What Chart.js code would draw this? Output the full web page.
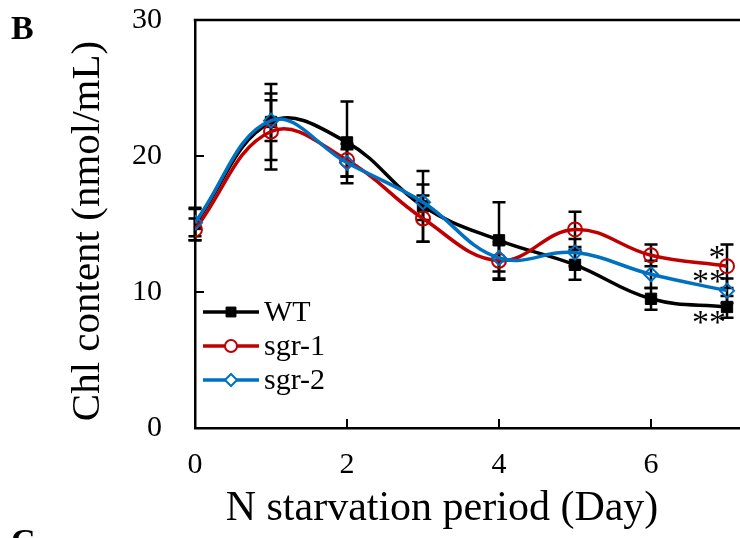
<!DOCTYPE html>
<html>
<head>
<meta charset="utf-8">
<script src="https://cdn.jsdelivr.net/npm/chart.js@4/dist/chart.umd.min.js"></script>
<style>
html,body{margin:0;padding:0;background:#fff;}
#wrap{width:740px;height:538px;position:relative;}
</style>
</head>
<body>
<div id="wrap"><canvas id="c"></canvas></div>
<script>
const days = [0, 1, 2, 3, 4, 5, 6, 7];
const wtValues   = [15.0, 22.5, 21.0, 16.3, 13.8, 12.0, 9.5, 8.9];
const wtErrors   = [1.2, 2.8, 3.0, 2.6, 2.8, 1.1, 0.8, 0.8];
const sgr1Values = [14.6, 21.8, 19.7, 15.4, 12.3, 14.6, 12.7, 11.9];
const sgr1Errors = [0.8, 2.8, 1.2, 1.7, 1.4, 1.3, 0.8, 1.6];
const sgr2Values = [15.1, 22.6, 19.5, 16.6, 12.5, 12.9, 11.3, 10.1];
const sgr2Errors = [1.0, 1.5, 1.0, 1.3, 1.0, 1.0, 1.0, 0.9];
const seriesNames = ['WT', 'sgr-1', 'sgr-2'];
const xTickValues = [0, 2, 4, 6];
const yTickValues = [0, 10, 20, 30];
const significance = ['**', '*', '**'];

const serif = "'Liberation Serif','DejaVu Serif',serif";

function pts(vals){ return days.map((d,i)=>({x:d, y:vals[i]})); }

const errorPlugin = {
  id: 'errbars',
  beforeDatasetsDraw(chart){
    const ctx = chart.ctx, xs = chart.scales.x, ys = chart.scales.y;
    const sets = [[wtValues, wtErrors],[sgr1Values, sgr1Errors],[sgr2Values, sgr2Errors]];
    ctx.save();
    ctx.strokeStyle = '#000';
    ctx.lineWidth = 2.5;
    sets.forEach(([v,e])=>{
      days.forEach((d,i)=>{
        const x = xs.getPixelForValue(d);
        const y1 = ys.getPixelForValue(v[i]+e[i]);
        const y2 = ys.getPixelForValue(v[i]-e[i]);
        ctx.beginPath();
        ctx.moveTo(x,y1); ctx.lineTo(x,y2);
        ctx.moveTo(x-6.5,y1); ctx.lineTo(x+6.5,y1);
        ctx.moveTo(x-6.5,y2); ctx.lineTo(x+6.5,y2);
        ctx.stroke();
      });
    });
    ctx.restore();
  }
};

const decoPlugin = {
  id: 'deco',
  afterDraw(chart){
    const ctx = chart.ctx, xs = chart.scales.x, ys = chart.scales.y;
    const a = chart.chartArea;
    ctx.save();
    // top border
    ctx.strokeStyle = '#000';
    ctx.lineWidth = 2.5;
    ctx.beginPath();
    ctx.moveTo(a.left - 1.25, a.top); ctx.lineTo(a.right, a.top);
    ctx.stroke();
    // inward ticks
    ctx.lineWidth = 2;
    yTickValues.forEach(v=>{
      if (v===0 || v===30) return;
      const y = ys.getPixelForValue(v);
      ctx.beginPath(); ctx.moveTo(a.left, y); ctx.lineTo(a.left+9, y); ctx.stroke();
    });
    xTickValues.forEach(v=>{
      if (v===0) return;
      const x = xs.getPixelForValue(v);
      ctx.beginPath(); ctx.moveTo(x, a.bottom); ctx.lineTo(x, a.bottom-9); ctx.stroke();
    });
    // axis titles
    ctx.fillStyle = '#000';
    ctx.textAlign = 'center';
    ctx.textBaseline = 'middle';
    ctx.font = "42px " + serif;
    ctx.fillText('N starvation period (Day)', 442, 509);
    ctx.save();
    ctx.translate(88, 231);
    ctx.rotate(-Math.PI/2);
    ctx.font = "41px " + serif;
    ctx.fillText('Chl content (nmol/mL)', 0, 0);
    ctx.restore();
    // panel letters
    ctx.font = "bold 34px " + serif;
    ctx.textAlign = 'left';
    ctx.textBaseline = 'alphabetic';
    ctx.fillText('B', 11, 39);
    ctx.fillText('C', 11, 552);
    // significance marks
    ctx.font = "34px " + serif;
    ctx.textAlign = 'center';
    ctx.textBaseline = 'alphabetic';
    const x7 = xs.getPixelForValue(7);
    ctx.fillText(significance[1], x7-10, ys.getPixelForValue(sgr1Values[7]) + 2);
    ctx.fillText(significance[2], x7-18, ys.getPixelForValue(sgr2Values[7]) + 1);
    ctx.fillText(significance[0], x7-18, ys.getPixelForValue(wtValues[7]) + 26);
    // legend
    const rows = [312, 346, 380];
    const ds = chart.data.datasets;
    ctx.font = "30px " + serif;
    ctx.textAlign = 'left';
    ctx.textBaseline = 'middle';
    ds.forEach((d,i)=>{
      const y = rows[i];
      ctx.strokeStyle = d.borderColor;
      ctx.lineWidth = 3.5;
      ctx.beginPath(); ctx.moveTo(203, y); ctx.lineTo(259, y); ctx.stroke();
      ctx.fillStyle = i === 0 ? '#000' : '#fff';
      ctx.strokeStyle = d.borderColor;
      ctx.lineWidth = d.pointBorderWidth;
      Chart.helpers.drawPoint(ctx, {
        pointStyle: d.pointStyle, radius: d.pointRadius - 1, borderWidth: d.pointBorderWidth
      }, 231, y);
      ctx.fillStyle = '#000';
      ctx.fillText(d.label, 264, y+1);
    });
    ctx.restore();
  }
};

new Chart(document.getElementById('c'), {
  type: 'line',
  data: {
    datasets: [
      { label: seriesNames[0], data: pts(wtValues), borderColor: '#000000', backgroundColor: '#000000',
        pointStyle: 'rect', pointRadius: 8, pointBorderWidth: 1, borderWidth: 3.5, tension: 0.4, order: 3,
        pointBackgroundColor: '#000000', pointBorderColor: '#000000' },
      { label: seriesNames[1], data: pts(sgr1Values), borderColor: '#C00000', backgroundColor: '#ffffff',
        pointStyle: 'circle', pointRadius: 7, pointBorderWidth: 2, borderWidth: 3.5, tension: 0.4, order: 2,
        pointBackgroundColor: 'rgba(255,255,255,0)', pointBorderColor: '#C00000' },
      { label: seriesNames[2], data: pts(sgr2Values), borderColor: '#0070C0', backgroundColor: '#ffffff',
        pointStyle: 'rectRot', pointRadius: 7, pointBorderWidth: 2, borderWidth: 3.5, tension: 0.4, order: 1,
        pointBackgroundColor: 'rgba(255,255,255,0)', pointBorderColor: '#0070C0' }
    ]
  },
  options: {
    responsive: true,
    maintainAspectRatio: false,
    animation: false,
    layout: { autoPadding: false, padding: { top: 20, left: 0, right: 0, bottom: 0 } },
    plugins: { legend: { display: false }, tooltip: { enabled: false } },
    scales: {
      x: {
        type: 'linear', min: 0, max: 545/76,
        afterFit(s){ s.height = 110; s.paddingLeft = 0; s.paddingRight = 0; },
        afterBuildTicks(s){ s.ticks = xTickValues.map(v=>({value:v})); },
        grid: { display: false, drawTicks: false },
        border: { display: true, color: '#000', width: 2.5 },
        ticks: { padding: 19, color: '#000', font: { family: serif, size: 30 }, maxRotation: 0 }
      },
      y: {
        type: 'linear', min: 0, max: 30,
        afterFit(s){ s.width = 195; s.paddingTop = 0; s.paddingBottom = 0; },
        afterBuildTicks(s){ s.ticks = yTickValues.map(v=>({value:v})); },
        grid: { display: false, drawTicks: false },
        border: { display: true, color: '#000', width: 2.5 },
        ticks: { padding: 33, color: '#000', font: { family: serif, size: 30 } }
      }
    }
  },
  plugins: [errorPlugin, decoPlugin]
});
</script>
</body>
</html>
